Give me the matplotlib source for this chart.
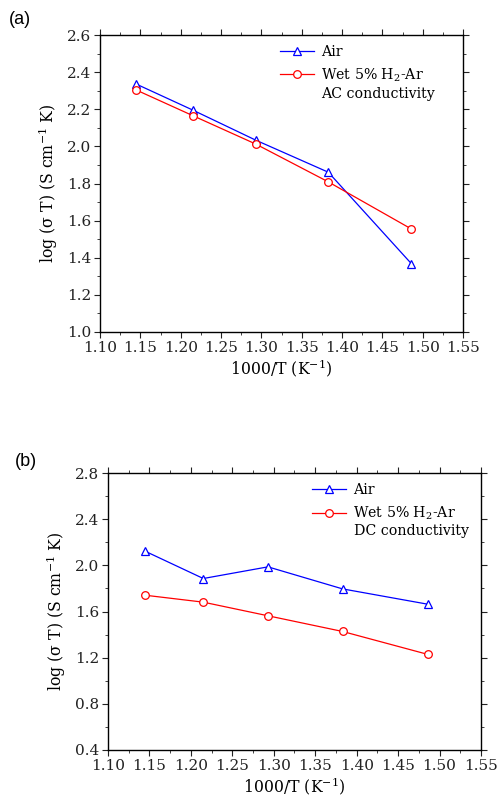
import numpy as np
import matplotlib
matplotlib.use('Agg')
import matplotlib.pyplot as plt
from matplotlib.ticker import MultipleLocator

plt.rcParams['font.family'] = 'DejaVu Serif'
plt.rcParams['mathtext.fontset'] = 'dejavuserif'

x_inv_t = [1.145, 1.215, 1.293, 1.383, 1.486]

ac_air = [2.336, 2.196, 2.034, 1.861, 1.368]
ac_wet = [2.304, 2.166, 2.013, 1.809, 1.555]

dc_air = [2.122, 1.886, 1.987, 1.796, 1.663]
dc_wet = [1.741, 1.681, 1.563, 1.427, 1.228]

fig = plt.figure(figsize=(4.99, 7.98), dpi=100)
ax_a = fig.add_axes([0.2004, 0.584, 0.7275, 0.372])
ax_b = fig.add_axes([0.2164, 0.0602, 0.7475, 0.347])


def style_axis(ax, ylim, ymajor, yminor, leg_xy, note, note_xy):
    ax.set_xlim(1.10, 1.55)
    ax.set_ylim(*ylim)
    ax.xaxis.set_major_locator(MultipleLocator(0.05))
    ax.xaxis.set_minor_locator(MultipleLocator(0.025))
    ax.yaxis.set_major_locator(MultipleLocator(ymajor))
    ax.yaxis.set_minor_locator(MultipleLocator(yminor))
    ax.tick_params(which='both', direction='out', top=True, right=True,
                   labelsize=11, colors='#222222')
    ax.tick_params(which='major', length=4, width=0.8, pad=2.5)
    ax.tick_params(which='minor', length=2.5, width=0.6)
    for s in ax.spines.values():
        s.set_linewidth(1.0)
    ax.set_xlabel('1000/T (K$^{-1}$)', fontsize=11.3, labelpad=1.5)
    ax.set_ylabel('log (σ T) (S cm$^{-1}$ K)', fontsize=11.3, labelpad=5)
    ax.legend(loc='upper left', bbox_to_anchor=leg_xy, borderaxespad=0,
              borderpad=0, frameon=False, fontsize=10.2, handlelength=2.4,
              handletextpad=0.5, labelspacing=0.55)
    ax.text(note_xy[0], note_xy[1], note, transform=ax.transAxes,
            fontsize=10.2, ha='left', va='center')


def draw(ax, air, wet):
    ax.plot(x_inv_t, air, color='blue', lw=0.9, marker='^', ms=5.8,
            mfc='white', mec='blue', mew=0.9, label='Air')
    ax.plot(x_inv_t, wet, color='red', lw=0.9, marker='o', ms=5.5,
            mfc='white', mec='red', mew=0.9, label='Wet 5% H$_2$-Ar')


draw(ax_a, ac_air, ac_wet)
style_axis(ax_a, (1.0, 2.6), 0.2, 0.1, (0.496, 0.968),
           'AC conductivity', (0.61, 0.80))

draw(ax_b, dc_air, dc_wet)
style_axis(ax_b, (0.4, 2.8), 0.4, 0.2, (0.547, 0.964),
           'DC conductivity', (0.66, 0.79))

fig.text(0.018, 0.970, '(a)', fontsize=13, family='Liberation Sans')
fig.text(0.030, 0.416, '(b)', fontsize=13, family='Liberation Sans')

fig.savefig('out.png', dpi=100)
